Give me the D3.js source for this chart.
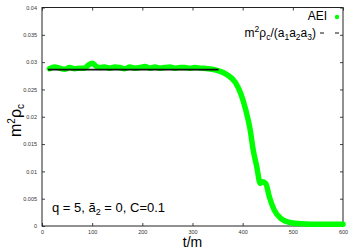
<!DOCTYPE html>
<html>
<head>
<meta charset="utf-8">
<script src="https://cdn.jsdelivr.net/npm/d3@7"></script>
<style>
  body { margin: 0; background: #fff; }
  svg { font-family: "Liberation Sans", Arial, sans-serif; }
</style>
</head>
<body>
<div id="chart"></div>
<script>
// AEI data: t/m and m^2 rho_c
const aeiT = [15, 25, 35, 45, 55, 65, 75, 85, 93, 100, 107, 115, 125, 135, 145, 155, 165, 175, 185, 195,
    205, 215, 225, 235, 245, 255, 265, 275, 285, 295, 305, 316, 330, 349, 369, 386, 396, 406, 415, 421,
    428, 435, 439, 446, 453, 463, 476, 496, 516, 556, 600];
const aeiV = [0.0288, 0.0291, 0.0289, 0.0287, 0.0290, 0.0288, 0.0289, 0.0289, 0.0295, 0.0298, 0.0293, 0.0290,
    0.0291, 0.0289, 0.0291, 0.0290, 0.0288, 0.0291, 0.0289, 0.0290, 0.0292, 0.0289, 0.0291, 0.0289, 0.0290,
    0.0291, 0.0289, 0.0290, 0.0290, 0.0289, 0.0290, 0.0289, 0.0288, 0.0285, 0.0277, 0.0262, 0.0243, 0.0213,
    0.0176, 0.0139, 0.0109, 0.0078, 0.0081, 0.0078, 0.0054, 0.0029, 0.0014, 0.0006, 0.0004, 0.0003, 0.0003];

// analytic line m^2 rho_c/(a1 a2 a3)
const refT = [12, 352];
const refV = [0.02862, 0.02862];

const xTicks = [0, 100, 200, 300, 400, 500, 600];
const yTicks = [0, 0.005, 0.01, 0.015, 0.02, 0.025, 0.03, 0.035, 0.04];

let width = 356, height = 249;
let margin = { top: 7.5, bottom: 23, left: 42, right: 13 };

let svg = d3.select('#chart')
    .append('svg')
    .attr('width', width)
    .attr('height', height);

const xScale = d3.scaleLinear()
    .domain([0, 600])
    .range([margin.left, width - margin.right]);

const yScale = d3.scaleLinear()
    .domain([0, 0.04])
    .range([height - margin.bottom, margin.top]);

// axes, gnuplot style inward ticks
let xaxis = svg.append('g')
    .attr('transform', `translate(0,${height - margin.bottom})`)
    .call(d3.axisBottom(xScale).tickValues(xTicks).tickFormat(d3.format('d')).tickSize(-3).tickPadding(4));

let yaxis = svg.append('g')
    .attr('transform', `translate(${margin.left},0)`)
    .call(d3.axisLeft(yScale).tickValues(yTicks).tickFormat(d => d === 0 ? '0' : String(+d.toFixed(3))).tickSize(-3).tickPadding(5));

svg.append('g')
    .attr('transform', `translate(0,${margin.top})`)
    .call(d3.axisTop(xScale).tickValues(xTicks).tickFormat('').tickSize(-3));

svg.append('g')
    .attr('transform', `translate(${width - margin.right},0)`)
    .call(d3.axisRight(yScale).tickValues(yTicks).tickFormat('').tickSize(-3));

svg.selectAll('.domain').remove();
svg.selectAll('.tick line').attr('stroke', '#444');
svg.selectAll('.tick text').attr('font-size', 5.5).attr('fill', '#333')
    .attr('font-family', '"Liberation Sans", Arial, sans-serif');

// frame
svg.append('rect')
    .attr('x', margin.left)
    .attr('y', margin.top)
    .attr('width', width - margin.left - margin.right)
    .attr('height', height - margin.top - margin.bottom)
    .attr('fill', 'none')
    .attr('stroke', '#222')
    .attr('stroke-width', 1);

// AEI curve
const aeiData = aeiT.map((t, i) => ({ t: t, v: aeiV[i] }));
let line = d3.line()
    .x(d => xScale(d.t))
    .y(d => yScale(d.v))
    .curve(d3.curveMonotoneX);

svg.append('path')
    .datum(aeiData)
    .attr('d', line)
    .attr('fill', 'none')
    .attr('stroke', '#00ff00')
    .attr('stroke-width', 5.5)
    .attr('stroke-linecap', 'round')
    .attr('stroke-linejoin', 'round');

// reference line
const refData = refT.map((t, i) => ({ t: t, v: refV[i] }));
svg.append('path')
    .datum(refData)
    .attr('d', d3.line().x(d => xScale(d.t)).y(d => yScale(d.v)))
    .attr('fill', 'none')
    .attr('stroke', '#111')
    .attr('stroke-width', 1.8);

// legend
const legend = svg.append('g').attr('font-size', 12).attr('fill', '#000');
legend.append('text')
    .attr('x', 327).attr('y', 20)
    .attr('text-anchor', 'end')
    .text('AEI');
legend.append('circle')
    .attr('cx', 337).attr('cy', 17)
    .attr('r', 2.2)
    .attr('fill', '#00ff00');

let lt = legend.append('text')
    .attr('x', 316).attr('y', 37)
    .attr('text-anchor', 'end');
lt.append('tspan').text('m');
lt.append('tspan').attr('dy', -5).attr('font-size', 8.5).text('2');
lt.append('tspan').attr('dy', 5).text('ρ');
lt.append('tspan').attr('dy', 2.5).attr('font-size', 8.5).text('c');
lt.append('tspan').attr('dy', -2.5).text('/(a');
lt.append('tspan').attr('dy', 2.5).attr('font-size', 8.5).text('1');
lt.append('tspan').attr('dy', -2.5).text('a');
lt.append('tspan').attr('dy', 2.5).attr('font-size', 8.5).text('2');
lt.append('tspan').attr('dy', -2.5).text('a');
lt.append('tspan').attr('dy', 2.5).attr('font-size', 8.5).text('3');
lt.append('tspan').attr('dy', -2.5).text(')');

legend.append('line')
    .attr('x1', 320).attr('x2', 339).attr('y1', 33).attr('y2', 33)
    .attr('stroke', '#111').attr('stroke-width', 1)
    .attr('stroke-dasharray', '4,11');

// annotation
let ann = svg.append('text')
    .attr('x', 52).attr('y', 212)
    .attr('font-size', 13);
ann.append('tspan').text('q = 5, ã');
ann.append('tspan').attr('dy', 3).attr('font-size', 9).text('2');
ann.append('tspan').attr('dy', -3).text(' = 0, C=0.1');

// x-axis label
svg.append('text')
    .attr('x', (margin.left + width - margin.right) / 2)
    .attr('y', 247)
    .attr('text-anchor', 'middle')
    .attr('font-size', 14)
    .text('t/m');

// y-axis label
let yl = svg.append('text')
    .attr('transform', 'translate(21,137) rotate(-90)')
    .attr('font-size', 16);
yl.append('tspan').text('m');
yl.append('tspan').attr('dy', -6).attr('font-size', 10).text('2');
yl.append('tspan').attr('dy', 6).text('ρ');
yl.append('tspan').attr('dy', 3).attr('font-size', 10).text('c');
</script>
</body>
</html>
